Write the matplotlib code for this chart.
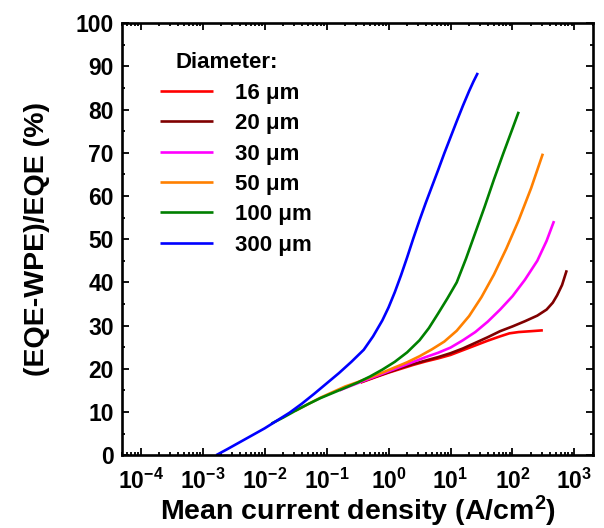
import numpy as np
import matplotlib
matplotlib.use('Agg')
import matplotlib.pyplot as plt
from matplotlib.ticker import LogLocator, FuncFormatter, MultipleLocator, NullFormatter

plt.rcParams['font.family'] = ['Liberation Sans', 'DejaVu Sans']
plt.rcParams['font.weight'] = 'bold'
plt.rcParams['mathtext.fontset'] = 'custom'
plt.rcParams['mathtext.rm'] = 'Liberation Sans:bold'
plt.rcParams['mathtext.bf'] = 'Liberation Sans:bold'
plt.rcParams['mathtext.it'] = 'Liberation Sans:bold'
plt.rcParams['mathtext.sf'] = 'Liberation Sans:bold'

# Данные с графика: log10 плотности тока (A/cm^2) и (EQE-WPE)/EQE (%)
logj_16 = [-0.45, -0.2, 0.0, 0.2, 0.4, 0.6, 0.8, 1.0, 1.2, 1.4, 1.6, 1.8, 1.95, 2.1, 2.3, 2.49]
y_16 = [16.8, 18.1, 19.1, 20.0, 20.9, 21.7, 22.4, 23.2, 24.3, 25.4, 26.5, 27.5, 28.2, 28.5, 28.7, 28.9]

logj_20 = [-0.45, -0.2, 0.0, 0.2, 0.4, 0.6, 0.8, 1.0, 1.2, 1.4, 1.6, 1.8, 2.0, 2.2, 2.4,
           2.55, 2.65, 2.72, 2.8, 2.875]
y_20 = [16.9, 18.2, 19.2, 20.2, 21.1, 21.9, 22.7, 23.6, 24.7, 26.0, 27.3, 28.7, 29.8, 31.0, 32.3,
        33.7, 35.3, 37.0, 39.4, 42.8]

logj_30 = [-0.79, -0.6, -0.4, -0.2, 0.0, 0.2, 0.4, 0.6, 0.8, 1.0, 1.2, 1.4, 1.6, 1.8, 2.0,
           2.2, 2.4, 2.55, 2.67]
y_30 = [15.0, 16.1, 17.2, 18.3, 19.4, 20.5, 21.6, 22.7, 23.7, 24.9, 26.6, 28.5, 30.9, 33.7, 36.8,
        40.6, 45.0, 49.6, 54.2]

logj_50 = [-1.5, -1.3, -1.1, -0.9, -0.7, -0.5, -0.3, -0.1, 0.1, 0.3, 0.5, 0.7, 0.9, 1.1, 1.3,
           1.5, 1.7, 1.9, 2.1, 2.3, 2.49]
y_50 = [10.3, 11.8, 13.3, 14.6, 15.9, 16.9, 18.0, 19.1, 20.3, 21.5, 22.9, 24.5, 26.3, 28.8, 32.2,
        36.6, 41.8, 47.8, 54.4, 61.8, 69.8]

logj_100 = [-1.89, -1.7, -1.5, -1.3, -1.1, -0.9, -0.7, -0.5, -0.3, -0.1, 0.1, 0.3, 0.5, 0.65,
            0.8, 0.95, 1.1, 1.25, 1.4, 1.55, 1.7, 1.85, 2.0, 2.1]
y_100 = [7.3, 8.7, 10.3, 11.8, 13.2, 14.4, 15.6, 16.8, 18.2, 19.8, 21.6, 23.8, 26.6, 29.4,
         32.8, 36.3, 40.0, 45.5, 51.5, 57.5, 63.8, 69.8, 75.6, 79.5]

logj_300 = [-2.78, -2.6, -2.4, -2.2, -2.0, -1.8, -1.6, -1.4, -1.2, -1.0, -0.8, -0.6, -0.4,
            -0.25, -0.1, 0.0, 0.1, 0.2, 0.3, 0.4, 0.5, 0.6, 0.7, 0.8, 0.9, 1.0, 1.1, 1.2,
            1.3, 1.37, 1.44]
y_300 = [0.0, 1.4, 3.0, 4.6, 6.2, 8.0, 9.8, 11.9, 14.2, 16.6, 19.0, 21.6, 24.4,
         27.5, 31.2, 34.2, 37.7, 41.6, 45.8, 50.2, 54.4, 58.4, 62.2, 66.0, 69.9, 73.6, 77.3, 80.9,
         84.3, 86.5, 88.5]

series = [
    (logj_16, y_16, '16 \u03bcm', '#ff0000'),
    (logj_20, y_20, '20 \u03bcm', '#800000'),
    (logj_30, y_30, '30 \u03bcm', '#ff00ff'),
    (logj_50, y_50, '50 \u03bcm', '#ff8000'),
    (logj_100, y_100, '100 \u03bcm', '#008000'),
    (logj_300, y_300, '300 \u03bcm', '#0000ff'),
]

fig = plt.figure(figsize=(6.04, 5.28), dpi=100)
ax = fig.add_axes([0.202, 0.138, 0.78, 0.818])

for lj, y, lab, c in series:
    ax.plot(10 ** np.array(lj), y, color=c, lw=1.9, label=lab, solid_capstyle='butt')

ax.set_xscale('log')
ax.set_xlim(5e-5, 2e3)
ax.set_ylim(0, 100)

ax.xaxis.set_major_locator(LogLocator(base=10, numticks=20))
ax.xaxis.set_minor_locator(LogLocator(base=10, subs=np.arange(2, 10), numticks=20))
ax.xaxis.set_minor_formatter(NullFormatter())
ax.xaxis.set_major_formatter(FuncFormatter(lambda v, p: r'$\mathbf{10^{%d}}$' % round(np.log10(v))))
ax.yaxis.set_major_locator(MultipleLocator(10))
ax.yaxis.set_minor_locator(MultipleLocator(5))

ax.tick_params(which='both', direction='in', top=True, right=True, width=1.3)
ax.tick_params(which='major', length=5, labelsize=16.5)
ax.tick_params(axis='x', which='major', pad=10)
ax.tick_params(axis='y', which='major', pad=6)
ax.tick_params(which='minor', length=2.5)
for s in ax.spines.values():
    s.set_linewidth(1.9)

ax.set_xlabel(r'Mean current density (A/cm$^{\mathbf{2}}$)', fontsize=20.5, fontweight='bold', labelpad=0)
ax.set_ylabel('(EQE-WPE)/EQE (%)', fontsize=20.5, fontweight='bold', labelpad=18)

ax.text(0.1125, 0.91, 'Diameter:', transform=ax.transAxes, fontsize=16,
        fontweight='bold', ha='left', va='center')
ax.legend(frameon=False, loc='upper left', bbox_to_anchor=(0.0807, 0.862),
          fontsize=16, handlelength=2.4, handletextpad=0.97, labelspacing=0.42,
          borderpad=0, borderaxespad=0)

plt.savefig('out.png', dpi=100)
